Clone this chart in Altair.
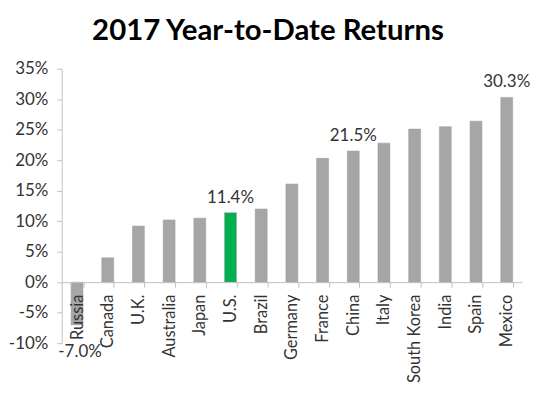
import altair as alt
import pandas as pd

countries = ["Russia", "Canada", "U.K.", "Australia", "Japan", "U.S.", "Brazil",
             "Germany", "France", "China", "Italy", "South Korea", "India", "Spain", "Mexico"]
returns = [-7.0, 4.0, 9.2, 10.2, 10.5, 11.4, 12.0, 16.1, 20.3, 21.5, 22.8, 25.1, 25.5, 26.4, 30.3]
labels = ["-7.0%", "", "", "", "", "11.4%", "", "", "", "21.5%", "", "", "", "", "30.3%"]
colors = ["#a6a6a6"] * 5 + ["#00b050"] + ["#a6a6a6"] * 9
y_ticks = [-10, -5, 0, 5, 10, 15, 20, 25, 30, 35]

df = pd.DataFrame({"country": countries, "ret": returns, "label": labels, "color": colors})

FONT = "Lato"
TXT = "#333333"
W, H = 463, 276
FS = 17

x = alt.X("country:N", sort=countries, title=None,
          scale=alt.Scale(paddingInner=0.6, paddingOuter=0.3),
          axis=alt.Axis(labelAngle=-90, labelFontSize=16.5, labelFont=FONT, labelColor=TXT,
                        labelPadding=7, tickBand="extent", tickSize=5, tickColor="#bfbfbf",
                        domainColor="#bfbfbf", offset=-(H * 10 / 45), labelOverlap=False,
                        zindex=1))
y = alt.Y("ret:Q", title=None,
          scale=alt.Scale(domain=[-10, 35], nice=False, zero=False),
          axis=alt.Axis(values=y_ticks, labelExpr="datum.value + '%'",
                        labelFontSize=FS, labelFont=FONT, labelColor=TXT, labelPadding=9,
                        tickSize=5, tickColor="#bfbfbf", domainColor="#bfbfbf", grid=False,
                        labelOverlap=False))

base = alt.Chart(df)

bars = base.mark_bar(size=12, stroke="#9a9a9a", strokeWidth=0.5).encode(
    x=x, y=y, color=alt.Color("color:N", scale=None))

pos_text = base.transform_filter("datum.label != '' && datum.ret > 0").mark_text(
    baseline="bottom", dy=-6, fontSize=FS, font=FONT, color=TXT).encode(
    x=x, y=y, text="label:N")

neg_text = base.transform_filter("datum.label != '' && datum.ret < 0").mark_text(
    baseline="top", dy=19, dx=3, fontSize=FS, font=FONT, color=TXT).encode(
    x=x, y=y, text="label:N")

chart = alt.layer(bars, pos_text, neg_text).properties(
    width=W, height=H,
    title=alt.TitleParams("2017 Year-to-Date Returns", fontSize=29.5, font=FONT,
                          fontWeight="bold", color="black", anchor="middle", offset=13,
                          dx=-24),
    autosize=alt.AutoSizeParams(type="none"),
    padding={"left": 54, "top": 60, "right": 10, "bottom": 39},
).configure_view(stroke=None)

chart.save("out.html", embed_options={"renderer": "svg", "actions": False})
